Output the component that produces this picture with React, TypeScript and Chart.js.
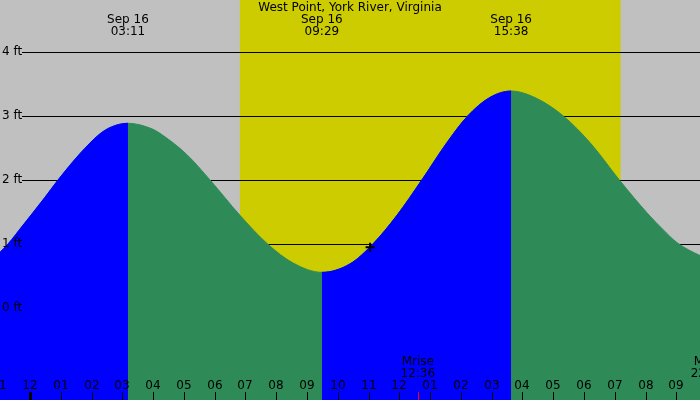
import { useEffect, useRef } from "react";
import { Chart, registerables } from "chart.js";
import type { Plugin, ChartConfiguration } from "chart.js";

Chart.register(...registerables);

// tide curve (hours from midnight Sep 16, feet)
const tideHours = [
    -0.975, -0.715, -0.25, 0.47, 0.91, 1.62, 2.27, 2.65, 3.183,
    3.96, 4.22, 5.09, 5.85, 6.82, 7.72, 8.56, 9.483,
    10.4, 11.14, 11.91, 12.73, 13.54, 14.22, 14.94, 15.633,
    16.44, 17.33, 18.24, 19.15, 20.08, 20.58, 21.0, 21.39, 21.77
];
const tideFeet = [
    0.87, 1.0, 1.28, 1.72, 2.0, 2.41, 2.72, 2.83, 2.886,
    2.8, 2.73, 2.4, 2.0, 1.45, 1.0, 0.7, 0.557,
    0.69, 1.0, 1.44, 2.0, 2.58, 3.0, 3.29, 3.39,
    3.28, 3.0, 2.56, 2.0, 1.47, 1.22, 1.03, 0.91, 0.82
];

// high / low labels
const extremeHours = [3.183, 9.483, 15.633];
const extremeDates = ["Sep 16", "Sep 16", "Sep 16"];
const extremeTimes = ["03:11", "09:29", "15:38"];

// hour ticks along the bottom
const hourTicks = [-1, 0, 1, 2, 3, 4, 5, 6, 7, 8, 9, 10, 11, 12, 13, 14, 15, 16, 17, 18, 19, 20, 21];
const hourLabels = ["11", "12", "01", "02", "03", "04", "05", "06", "07", "08", "09", "10", "11", "12", "01", "02", "03", "04", "05", "06", "07", "08", "09"];

// feet lines
const feetTicks = [0, 1, 2, 3, 4];
const feetLabels = ["0 ft", "1 ft", "2 ft", "3 ft", "4 ft"];

// sun and moon
const sunriseHour = 6.82;
const sunsetHour = 19.19;
const moonHours = [12.6, 22.03];
const moonNames = ["Mrise", "Mset"];
const moonTimes = ["12:36", "22:02"];

// current time marker
const markerHours = [11.05];
const markerFeet = [0.95];

const title = "West Point, York River, Virginia";

const BLUE = "#0000ff";
const GREEN = "#2e8b57";
const NIGHT = "#c0c0c0";
const DAY = "#cccc00";
const FONT = '12px "DejaVu Sans"';

const tidePlugin: Plugin = {
    id: "tideDecor",
    beforeDraw(chart) {
        const { ctx, scales } = chart;
        const x = scales.x;
        ctx.save();
        ctx.fillStyle = NIGHT;
        ctx.fillRect(0, 0, chart.width, chart.height);
        const x0 = x.getPixelForValue(sunriseHour);
        const x1 = x.getPixelForValue(sunsetHour);
        ctx.fillStyle = DAY;
        ctx.fillRect(x0, 0, x1 - x0, chart.height);
        ctx.restore();
    },
    beforeDatasetsDraw(chart) {
        const { ctx, scales } = chart;
        ctx.save();
        ctx.strokeStyle = "#000";
        ctx.lineWidth = 1;
        feetTicks.forEach(f => {
            const y = Math.round(scales.y.getPixelForValue(f)) + 0.5;
            ctx.beginPath();
            ctx.moveTo(22, y);
            ctx.lineTo(chart.width, y);
            ctx.stroke();
        });
        ctx.restore();
    },
    afterDatasetsDraw(chart) {
        const { ctx, scales } = chart;
        const x = scales.x;
        const h = chart.height;
        ctx.save();
        ctx.font = FONT;
        ctx.fillStyle = "#000";
        ctx.textBaseline = "middle";

        // feet labels
        ctx.textAlign = "left";
        feetTicks.forEach((f, i) => {
            ctx.fillText(feetLabels[i], 2, scales.y.getPixelForValue(f));
        });

        ctx.textAlign = "center";
        ctx.fillText(title, chart.width / 2, 8);

        extremeHours.forEach((t, i) => {
            const px = x.getPixelForValue(t);
            ctx.fillText(extremeDates[i], px, 20);
            ctx.fillText(extremeTimes[i], px, 32);
        });

        // hour ticks
        hourTicks.forEach((t, i) => {
            const px = Math.round(x.getPixelForValue(t));
            ctx.fillText(hourLabels[i], px, 386);
            if (t === 0) ctx.fillRect(px - 1, 392, 3, h - 392);
            else ctx.fillRect(px, 392, 1, h - 392);
        });

        // moon
        moonHours.forEach((t, i) => {
            const px = x.getPixelForValue(t);
            ctx.fillStyle = "#000";
            ctx.fillText(moonNames[i], px, 362);
            ctx.fillText(moonTimes[i], px, 374);
            ctx.fillStyle = "#ff0000";
            ctx.fillRect(Math.round(px), 392, 1, h - 392);
        });
        ctx.restore();
    }
};

export default function App() {
    const chartRef = useRef<HTMLCanvasElement | null>(null);
    useEffect(() => {
        const context = chartRef.current?.getContext("2d");
        if (!context) return;
        const tidePoints = tideHours.map((t, i) => ({ x: t, y: tideFeet[i] }));
        // blue only where the tide rises, drawn over the green base
        const rising = (c: any) => (c.p1.parsed.y > c.p0.parsed.y ? BLUE : "rgba(0,0,0,0)");
        const config: ChartConfiguration = {
            type: "line",
            data: {
                datasets: [
                    {
                        label: "now",
                        data: markerHours.map((t, i) => ({ x: t, y: markerFeet[i] })),
                        showLine: false,
                        pointStyle: "cross",
                        pointRadius: 4.5,
                        pointBorderColor: "#000",
                        pointBorderWidth: 2,
                        fill: false
                    } as any,
                    {
                        label: "rising",
                        data: tidePoints,
                        fill: "start",
                        cubicInterpolationMode: "monotone",
                        pointRadius: 0,
                        borderWidth: 1,
                        borderColor: BLUE,
                        backgroundColor: BLUE,
                        segment: {
                            borderColor: rising,
                            backgroundColor: rising
                        }
                    } as any,
                    {
                        label: "tide",
                        data: tidePoints,
                        fill: "start",
                        cubicInterpolationMode: "monotone",
                        pointRadius: 0,
                        borderWidth: 1,
                        borderColor: GREEN,
                        backgroundColor: GREEN
                    } as any
                ]
            },
            options: {
                animation: false,
                responsive: false,
                devicePixelRatio: 1,
                layout: { padding: 0, autoPadding: false },
                scales: {
                    x: { type: "linear", min: -0.975, max: 21.77, display: false },
                    y: { type: "linear", min: -1.4375, max: 4.8125, display: false }
                },
                plugins: {
                    legend: { display: false },
                    tooltip: { enabled: false }
                }
            },
            plugins: [tidePlugin]
        };
        const chartInstance = new Chart(context, config);
        return () => {
            chartInstance.destroy();
        };
    }, []);
    return (
        <div style={{ position: "absolute", left: 0, top: 0, width: 700, height: 400 }}>
            <canvas ref={chartRef} width={700} height={400} />
        </div>
    );
}
